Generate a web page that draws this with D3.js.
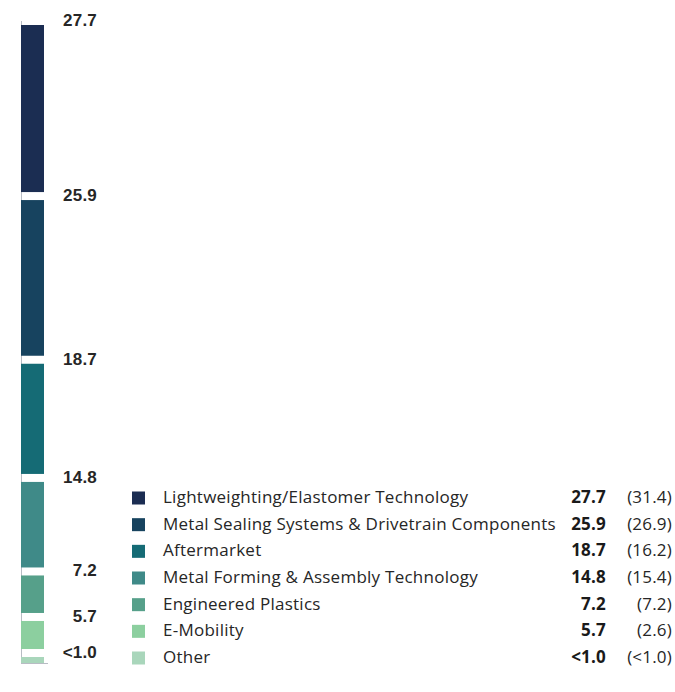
<!DOCTYPE html>
<html>
<head>
<meta charset="utf-8">
<script src="https://cdn.jsdelivr.net/npm/d3@7"></script>
<style>
  html, body { margin: 0; padding: 0; background: #fff; }
  svg { display: block; }
</style>
</head>
<body>
<svg id="chart" width="675" height="692"></svg>
<script>
// Data (top to bottom order)
const categories = [
  "Lightweighting/Elastomer Technology",
  "Metal Sealing Systems & Drivetrain Components",
  "Aftermarket",
  "Metal Forming & Assembly Technology",
  "Engineered Plastics",
  "E-Mobility",
  "Other"
];
const values = [27.7, 25.9, 18.7, 14.8, 7.2, 5.7, 0.95];
const valueLabels = ["27.7", "25.9", "18.7", "14.8", "7.2", "5.7", "<1.0"];
const priorLabels = ["(31.4)", "(26.9)", "(16.2)", "(15.4)", "(7.2)", "(2.6)", "(<1.0)"];
const colors = ["#1b2d52", "#17435f", "#156b75", "#3f8a88", "#56a08a", "#8ccf9f", "#a9d6bb"];

const svg = d3.select("#chart");
const total = d3.sum(values);
const y = d3.scaleLinear().domain([0, total]).range([663, 25]);
const x0 = 21, barW = 23, gap = 8;

// stack from bottom
const n = values.length;
const segs = [];
let cum = 0;
for (let i = n - 1; i >= 0; i--) {
  segs.push({ i, v: values[i], y0: cum, y1: cum + values[i], bottom: i === n - 1 });
  cum += values[i];
}

// axis line
svg.append("line")
  .attr("x1", x0 + 0.5).attr("x2", x0 + 0.5)
  .attr("y1", 21).attr("y2", 663)
  .attr("stroke", "#b8bcc4").attr("stroke-width", 1);

svg.selectAll("rect.seg").data(segs).enter().append("rect")
  .attr("class", "seg")
  .attr("x", x0)
  .attr("width", barW)
  .attr("y", d => y(d.y1))
  .attr("height", d => y(d.y0) - y(d.y1) - (d.bottom ? 0 : gap))
  .attr("fill", d => colors[d.i]);

svg.append("line")
  .attr("x1", x0).attr("x2", 48)
  .attr("y1", 663.5).attr("y2", 663.5)
  .attr("stroke", "#b8bcc4").attr("stroke-width", 1);

svg.selectAll("text.seglab").data(segs).enter().append("text")
  .attr("class", "seglab")
  .attr("x", 97)
  .attr("y", d => y(d.y1) + 1)
  .attr("text-anchor", "end")
  .attr("font-family", "'Liberation Sans', Arial, sans-serif")
  .attr("font-weight", "bold")
  .attr("font-size", 17)
  .attr("letter-spacing", "0.2")
  .attr("fill", "#262626")
  .text(d => valueLabels[d.i]);

// legend
const ly = d3.scaleLinear().domain([0, n - 1]).range([503, 663]);
const lg = svg.append("g").selectAll("g").data(categories).enter().append("g")
  .attr("transform", (d, i) => `translate(0,${ly(i)})`);

lg.append("rect")
  .attr("x", 132).attr("y", -11.5)
  .attr("width", 13).attr("height", 13)
  .attr("fill", (d, i) => colors[i]);

const lf = "'Open Sans', 'Noto Sans', sans-serif";
lg.append("text")
  .attr("x", 163).attr("y", 0)
  .attr("font-family", lf)
  .attr("font-size", 17)
  .attr("letter-spacing", "0.25")
  .attr("fill", "#262626")
  .text(d => d);

lg.append("text")
  .attr("x", 606).attr("y", 0)
  .attr("text-anchor", "end")
  .attr("font-family", lf)
  .attr("font-weight", "bold")
  .attr("font-size", 17)
  .attr("letter-spacing", "0.2")
  .attr("fill", "#1a1a1a")
  .text((d, i) => valueLabels[i]);

lg.append("text")
  .attr("x", 672).attr("y", 0)
  .attr("text-anchor", "end")
  .attr("font-family", lf)
  .attr("font-size", 17)
  .attr("letter-spacing", "0.2")
  .attr("fill", "#262626")
  .text((d, i) => priorLabels[i]);
</script>
</body>
</html>
